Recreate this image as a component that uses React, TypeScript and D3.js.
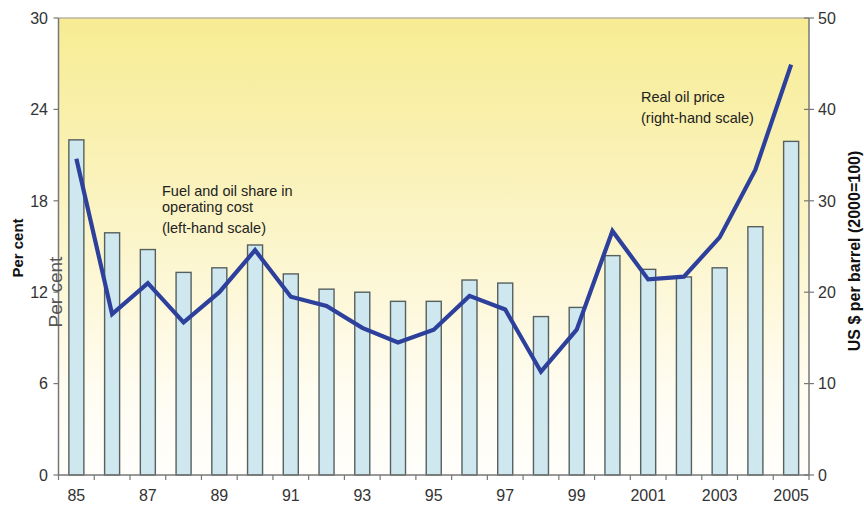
import React from "react";
import * as d3 from "d3";

const years: string[] = ["85","86","87","88","89","90","91","92","93","94","95","96","97","98","99","2000","2001","2002","2003","2004","2005"];
const fuelShare: number[] = [22.0, 15.9, 14.8, 13.3, 13.6, 15.1, 13.2, 12.2, 12.0, 11.4, 11.4, 12.8, 12.6, 10.4, 11.0, 14.4, 13.5, 13.0, 13.6, 16.3, 21.9];
const oilPrice: number[] = [34.6, 17.6, 21.0, 16.7, 20.0, 24.6, 19.5, 18.5, 16.1, 14.5, 15.9, 19.6, 18.1, 11.3, 15.9, 26.7, 21.4, 21.7, 26.0, 33.4, 44.9];
const leftTicks: number[] = [0, 6, 12, 18, 24, 30];
const rightTicks: number[] = [0, 10, 20, 30, 40, 50];
const xLabelYears: string[] = ["85","87","89","91","93","95","97","99","2001","2003","2005"];

const W = 864, H = 506;
const L = 58.5, R = 809, T = 18, B = 475;
const FONT = "'Liberation Sans', Arial, sans-serif";

export default function App() {
  const x = d3.scaleBand<string>().domain(years).range([L, R]).paddingInner(0.58).paddingOuter(0.29);
  const yL = d3.scaleLinear().domain([0, 30]).range([B, T]);
  const yR = d3.scaleLinear().domain([0, 50]).range([B, T]);
  const step = x.step();
  const cx = (d: string) => (x(d) as number) + x.bandwidth() / 2;
  const line = d3.line<number>().x((_, i) => cx(years[i])).y(d => yR(d));
  const boundaries = d3.range(years.length + 1).map(i => L + i * step);

  return (
    <svg width={W} height={H} style={{ position: "absolute", left: 0, top: 0, background: "#fff" }}>
      <defs>
        <linearGradient id="bg" x1="0" y1="0" x2="0" y2="1">
          <stop offset="0" stopColor="#f7ec92" />
          <stop offset="0.45" stopColor="#fbf4c6" />
          <stop offset="0.8" stopColor="#fffcf0" />
          <stop offset="1" stopColor="#fffefb" />
        </linearGradient>
      </defs>
      <rect x={L} y={T} width={R - L} height={B - T} fill="url(#bg)" />
      <line x1={L} x2={R} y1={T} y2={T} stroke="#b9b5a0" strokeWidth={1.5} />

      {fuelShare.map((v, i) => (
        <rect key={years[i]} x={x(years[i])} y={yL(v)} width={x.bandwidth()} height={B - yL(v)}
          fill="#cfe8ef" stroke="#55605f" strokeWidth={1.4} />
      ))}

      <path d={line(oilPrice) || ""} fill="none" stroke="#2d409c" strokeWidth={4.2} strokeLinejoin="miter" />

      {/* axes */}
      <line x1={L} x2={L} y1={T} y2={B} stroke="#777" strokeWidth={1.5} />
      <line x1={R} x2={R} y1={T} y2={B} stroke="#777" strokeWidth={1.5} />
      <line x1={L} x2={R} y1={B} y2={B} stroke="#777" strokeWidth={1.5} />

      {leftTicks.map(t => (
        <g key={"l" + t}>
          <line x1={L - 5} x2={L} y1={yL(t)} y2={yL(t)} stroke="#777" strokeWidth={1.2} />
          <text x={48} y={yL(t) + 5.8} textAnchor="end" fontFamily={FONT} fontSize={16} fill="#333">{t}</text>
        </g>
      ))}
      {rightTicks.map(t => (
        <g key={"r" + t}>
          <line x1={R - 5} x2={R + 5} y1={yR(t)} y2={yR(t)} stroke="#777" strokeWidth={1.2} />
          <text x={818} y={yR(t) + 5.8} textAnchor="start" fontFamily={FONT} fontSize={16} fill="#333">{t}</text>
        </g>
      ))}
      {boundaries.map((b, i) => (
        <line key={"xt" + i} x1={b} x2={b} y1={B} y2={B + 5} stroke="#777" strokeWidth={1.2} />
      ))}
      {xLabelYears.map(yv => (
        <text key={"xl" + yv} x={cx(yv)} y={501} textAnchor="middle" fontFamily={FONT} fontSize={16} fill="#333">{yv}</text>
      ))}

      {/* axis titles */}
      <text transform="translate(23,248) rotate(-90)" textAnchor="middle" fontFamily={FONT} fontSize={15} fontWeight="bold" fill="#111">Per cent</text>
      <text transform="translate(62,292) rotate(-90)" textAnchor="middle" fontFamily={FONT} fontSize={19} fill="#555">Per cent</text>
      <text transform="translate(860,251) rotate(-90)" textAnchor="middle" fontFamily={FONT} fontSize={16} fontWeight="bold" fill="#111">US $ per barrel (2000=100)</text>

      {/* annotations */}
      <text fontFamily={FONT} fontSize={14.5} fill="#222">
        <tspan x={162} y={196}>Fuel and oil share in</tspan>
        <tspan x={162} y={212}>operating cost</tspan>
        <tspan x={162} y={233}>(left-hand scale)</tspan>
      </text>
      <text fontFamily={FONT} fontSize={14.5} fill="#222">
        <tspan x={641} y={102}>Real oil price</tspan>
        <tspan x={641} y={123}>(right-hand scale)</tspan>
      </text>
    </svg>
  );
}
